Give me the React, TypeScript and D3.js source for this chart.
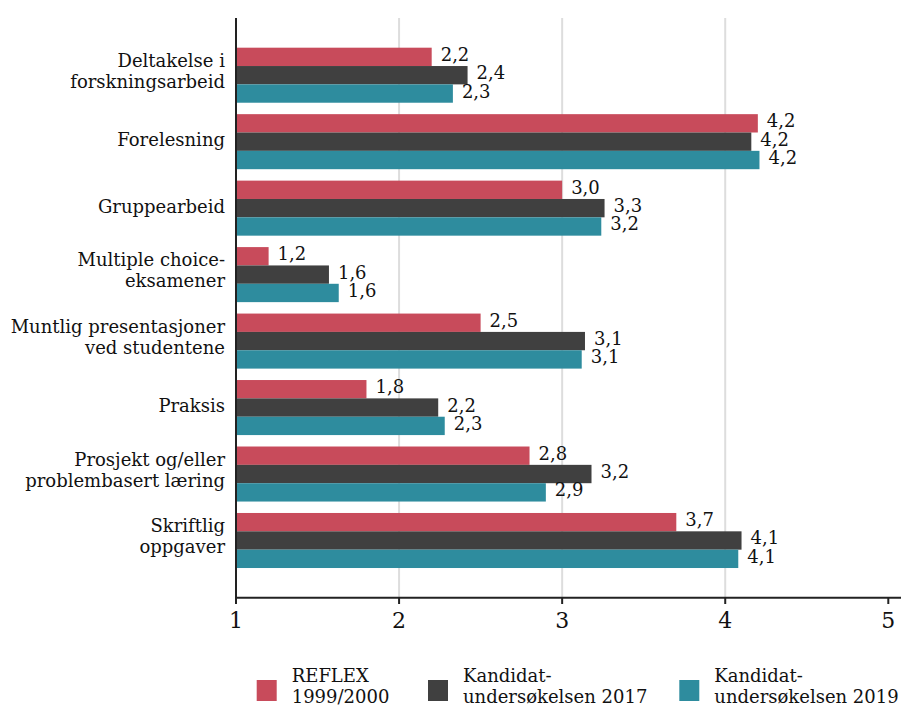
import React from "react";
import * as d3 from "d3";

const categories = [
  ["Deltakelse i", "forskningsarbeid"],
  ["Forelesning"],
  ["Gruppearbeid"],
  ["Multiple choice-", "eksamener"],
  ["Muntlig presentasjoner", "ved studentene"],
  ["Praksis"],
  ["Prosjekt og/eller", "problembasert læring"],
  ["Skriftlig", "oppgaver"],
];

const reflex1999 = [2.2, 4.2, 3.0, 1.2, 2.5, 1.8, 2.8, 3.7];
const kandidat2017 = [2.42, 4.16, 3.26, 1.57, 3.14, 2.24, 3.18, 4.1];
const kandidat2019 = [2.33, 4.21, 3.24, 1.63, 3.12, 2.28, 2.9, 4.08];

const seriesNames = [
  ["REFLEX", "1999/2000"],
  ["Kandidat-", "undersøkelsen 2017"],
  ["Kandidat-", "undersøkelsen 2019"],
];
const seriesValues = [reflex1999, kandidat2017, kandidat2019];
const colors = ["#c84b5b", "#404040", "#2e8c9e"];
const xTicks = [1, 2, 3, 4, 5];

const W = 901;
const H = 706;
const FONT = "'DejaVu Serif', serif";

export default function App() {
  const x = d3.scaleLinear().domain([1, 5]).range([236, 888.3]);
  const y = d3
    .scaleBand<number>()
    .domain(categories.map((_, i) => i))
    .range([18, 597.7])
    .paddingInner(0.172)
    .paddingOuter(0.4466);
  const inner = d3
    .scaleBand<number>()
    .domain([0, 1, 2])
    .range([0, y.bandwidth()]);
  const fmt = (v: number) => d3.format(".1f")(v).replace(".", ",");
  const legendX = [256.7, 428, 679.3];

  return (
    <svg
      width={W}
      height={H}
      style={{ position: "absolute", left: 0, top: 0, background: "#fff" }}
      fontFamily={FONT}
    >
      {/* gridlines */}
      {xTicks
        .filter((t) => t > 1 && t < 5)
        .map((t) => (
          <line
            key={"g" + t}
            x1={x(t)}
            x2={x(t)}
            y1={18}
            y2={597.7}
            stroke="#dddddd"
            strokeWidth={2}
          />
        ))}
      {/* bars */}
      {categories.map((_, ci) =>
        seriesValues.map((vals, si) => (
          <rect
            key={`b${ci}-${si}`}
            x={x(1)}
            y={(y(ci) as number) + (inner(si) as number)}
            width={x(vals[ci]) - x(1)}
            height={inner.bandwidth()}
            fill={colors[si]}
          />
        ))
      )}
      {/* value labels */}
      {categories.map((_, ci) =>
        seriesValues.map((vals, si) => (
          <text
            key={`l${ci}-${si}`}
            x={x(vals[ci]) + 9}
            y={(y(ci) as number) + (inner(si) as number) + inner.bandwidth() / 2 + 4}
            fontSize={18}
            fill="#111"
          >
            {fmt(vals[ci])}
          </text>
        ))
      )}
      {/* category labels */}
      {categories.map((lines, ci) => {
        const cy = (y(ci) as number) + y.bandwidth() / 2;
        return (
          <text
            key={`c${ci}`}
            x={225}
            textAnchor="end"
            fontSize={18}
            fill="#111"
          >
            {lines.map((ln, li) => (
              <tspan
                key={li}
                x={225}
                y={
                  lines.length === 1
                    ? cy + 4.5
                    : cy + 2 + (li === 0 ? -10.5 : 10.5)
                }
              >
                {ln}
              </tspan>
            ))}
          </text>
        );
      })}
      {/* axes */}
      <line x1={236} x2={236} y1={18} y2={597.7} stroke="#222" strokeWidth={2} />
      <line x1={235} x2={901} y1={597.7} y2={597.7} stroke="#222" strokeWidth={2} />
      {xTicks.map((t) => (
        <g key={"t" + t}>
          <line x1={x(t)} x2={x(t)} y1={597.7} y2={604} stroke="#222" strokeWidth={2} />
          <text x={x(t)} y={628} textAnchor="middle" fontSize={22} fill="#111">
            {t}
          </text>
        </g>
      ))}
      {/* legend */}
      {seriesNames.map((lines, si) => (
        <g key={"lg" + si}>
          <rect x={legendX[si]} y={680} width={20} height={21} fill={colors[si]} />
          <text fontSize={18} fill="#111">
            {lines.map((ln, li) => (
              <tspan key={li} x={legendX[si] + 35} y={682 + li * 21}>
                {ln}
              </tspan>
            ))}
          </text>
        </g>
      ))}
    </svg>
  );
}
